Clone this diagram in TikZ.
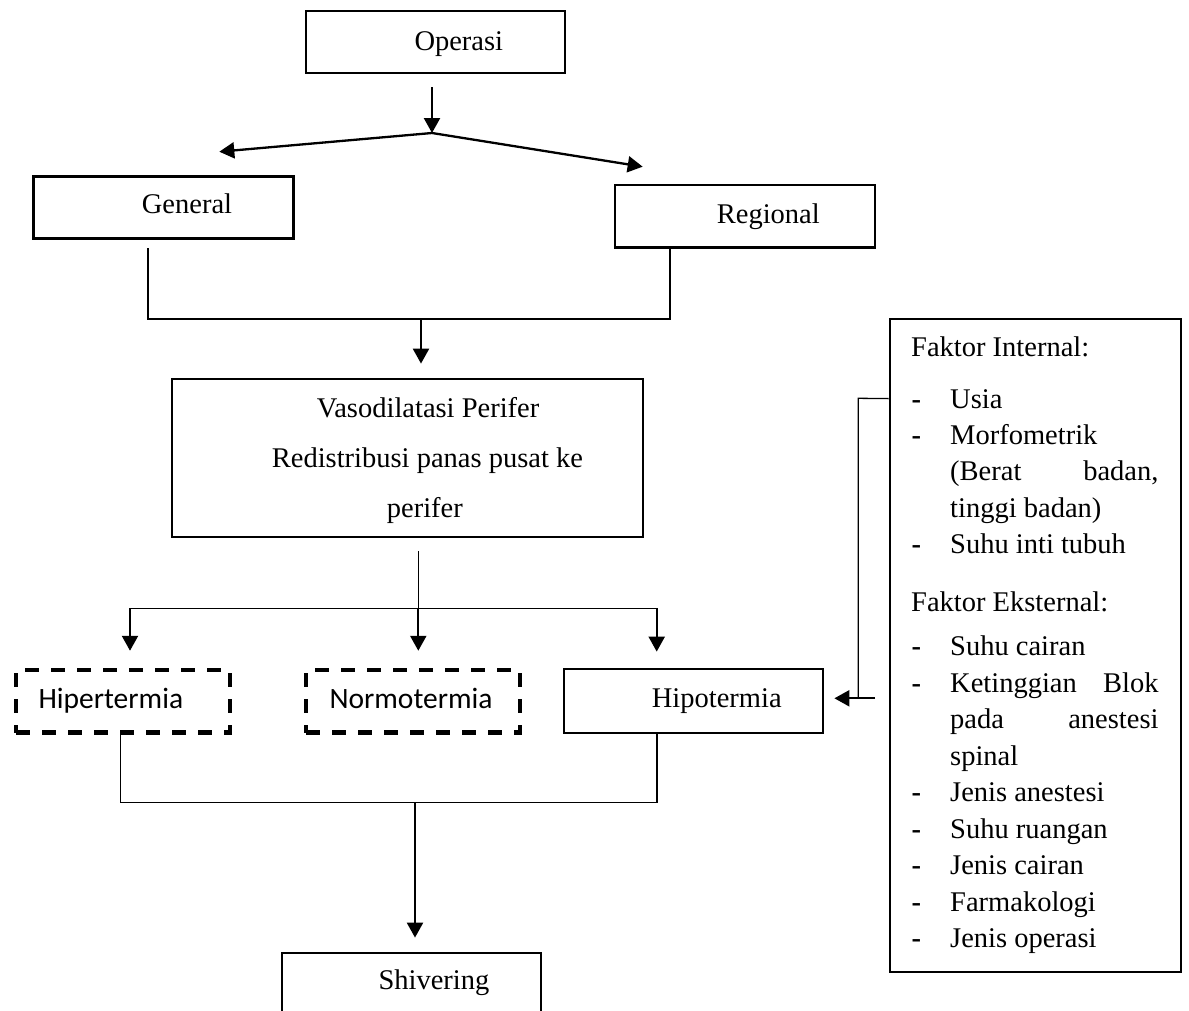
\documentclass[tikz,border=0pt]{standalone}
\usepackage{fontspec}
\setmainfont{Liberation Serif}
\newfontfamily\calfont{Carlito}
\usetikzlibrary{arrows.meta,calc}
\begin{document}
\begin{tikzpicture}[x=1pt,y=-1pt,
  box/.style={draw, line width=2.8pt, inner sep=0pt},
  dbox/.style={draw, line width=4.4pt, dash pattern=on 14pt off 12pt, inner sep=0pt},
  txt/.style={anchor=base west, inner sep=0pt, font=\fontsize{28.5}{36}\selectfont},
  stxt/.style={txt, font=\fontsize{29.5}{36}\calfont},
  arr/.style={line width=2.3pt, -{Triangle[length=15pt,width=16pt]}},
  thinline/.style={line width=1.3pt}]
\useasboundingbox (0,0) rectangle (1189,1010);
\clip (0,0) rectangle (1189,1010);
% boxes
\node[box, minimum width=259pt, minimum height=62pt] (op) at (435.5,42) {};
\node[box, minimum width=260pt, minimum height=61.6pt] (gen) at (163.3,207.5) {};
\node[box, minimum width=260pt, minimum height=62.7pt] (reg) at (745,216.3) {};
\node[box, minimum width=471pt, minimum height=158pt] (vaso) at (407.5,458) {};
\node[dbox, minimum width=214pt, minimum height=62.7pt] (hiper) at (123,701.3) {};
\node[dbox, minimum width=214pt, minimum height=62.7pt] (normo) at (413,701.3) {};
\node[box, minimum width=259pt, minimum height=64pt] (hipo) at (693.5,701) {};
\node[box, minimum width=259pt, minimum height=100pt] (shiv) at (411.5,1003) {};
\node[box, minimum width=291pt, minimum height=653pt] (fak) at (1035.5,645.5) {};
% texts
\node[txt] (topt) at (414.3,50) {Operasi};
\node[txt] (tgen) at (141.7,213.3) {General};
\node[txt] (treg) at (716.7,223.3) {Regional};
\node[txt] (tv1) at (316.7,417) {Vasodilatasi Perifer};
\node[txt] (tv2) at (271.7,467) {Redistribusi panas pusat ke};
\node[txt] (tv3) at (386.7,517) {perifer};
\node[stxt] (thiper) at (38.3,708.3) {Hipertermia};
\node[stxt] (tnormo) at (329.3,708.3) {Normotermia};
\node[txt] (thipo) at (651.7,707.3) {Hipotermia};
\node[txt] (tshiv) at (378.3,989.3) {Shivering};
% factor list
\node[txt] (f0) at (911,356) {Faktor Internal:};
\node[txt] (f1) at (911.5,408.3) {\makebox[38.5pt][l]{\textbf{-}}Usia};
\node[txt] (f2) at (911.5,444.6) {\makebox[38.5pt][l]{\textbf{-}}Morfometrik};
\node[txt] (f3) at (950,480.9) {\makebox[208.3pt][s]{(Berat badan,}};
\node[txt] (f4) at (950,517.2) {tinggi badan)};
\node[txt] (f5) at (911.5,553.5) {\makebox[38.5pt][l]{\textbf{-}}Suhu inti tubuh};
\node[txt] (f6) at (911,611.7) {Faktor Eksternal:};
\node[txt] (f7) at (911.5,655.7) {\makebox[38.5pt][l]{\textbf{-}}Suhu cairan};
\node[txt] (f8) at (911.5,692.2) {\makebox[38.5pt][l]{\textbf{-}}\makebox[208.3pt][s]{Ketinggian Blok}};
\node[txt] (f9) at (950,728.7) {\makebox[208.3pt][s]{pada anestesi}};
\node[txt] (f10) at (950,765.2) {spinal};
\node[txt] (f11) at (911.5,801.7) {\makebox[38.5pt][l]{\textbf{-}}Jenis anestesi};
\node[txt] (f12) at (911.5,838.2) {\makebox[38.5pt][l]{\textbf{-}}Suhu ruangan};
\node[txt] (f13) at (911.5,874.7) {\makebox[38.5pt][l]{\textbf{-}}Jenis cairan};
\node[txt] (f14) at (911.5,911.2) {\makebox[38.5pt][l]{\textbf{-}}Farmakologi};
\node[txt] (f15) at (911.5,947.7) {\makebox[38.5pt][l]{\textbf{-}}Jenis operasi};
% coordinates
\coordinate (j1) at (432,133);
\coordinate (gtip) at (219.3,151.7);
\coordinate (rtip) at (642.7,166.7);
\coordinate (bl) at (148,319);
\coordinate (br) at (670,319);
\coordinate (b1) at (421,319);
\coordinate (b2) at (418.3,608.3);
\coordinate (h1) at (130,608.3);
\coordinate (h3) at (656.7,608.3);
\coordinate (l1) at (120.7,802.7);
\coordinate (l2) at (415,802.7);
\coordinate (l3) at (657,802.7);
\coordinate (r1) at (858.3,398.3);
\coordinate (r2) at (858.3,698.3);
\coordinate (r3) at (875,698.3);
% connectors
\draw[arr] ($(j1 |- op.south)+(0,13)$) -- (j1);
\draw[arr] (j1) -- (gtip);
\draw[arr] (j1) -- (rtip);
\draw[thinline] ($(bl |- gen.south)+(0,8.4)$) -- (bl) -- (br) -- (br |- reg.south);
\draw[arr] (b1) -- ($(b1 |- vaso.north)+(0,-14)$);
\draw[thinline] ($(b2 |- vaso.south)+(0,13)$) -- (b2);
\draw[thinline] (h1) -- (h3);
\draw[arr] (h1) -- ($(h1 |- hiper.north)+(0,-17)$);
\draw[arr] (b2) -- ($(b2 |- normo.north)+(0,-17)$);
\draw[arr] (h3) -- ($(h3 |- hipo.north)+(0,-16)$);
\draw[thinline] (l1 |- hiper.south) -- (l1) -- (l3) -- (l3 |- hipo.south);
\draw[arr] (l2) -- ($(l2 |- shiv.north)+(0,-14)$);
\draw[thinline] ($(fak.north west)+(0,81)$) -- (r1) -- (r2);
\draw[arr] (r3) -- ($(r3 -| hipo.east)+(10,0)$);
\end{tikzpicture}
\end{document}
